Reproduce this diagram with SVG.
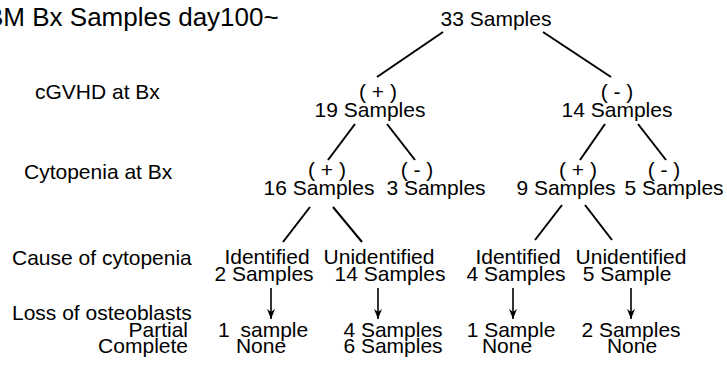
<svg xmlns="http://www.w3.org/2000/svg" width="727" height="366" viewBox="0 0 727 366">
<defs>
<style>
text{font-family:"Liberation Sans",Arial,sans-serif;font-size:21px;fill:#000}
.m{text-anchor:middle}
.e{text-anchor:end}
.t{font-size:26px}
.ln{stroke:#000;stroke-width:2;fill:none}
.ar{stroke:#000;stroke-width:1.6;fill:none}
</style>
<marker id="ah" viewBox="0 0 10 10" refX="10" refY="5" markerWidth="10" markerHeight="10" markerUnits="userSpaceOnUse" orient="auto">
<path d="M0,1 L10,5 L0,9 L3,5 Z" fill="#000"/>
</marker>
</defs>
<rect width="727" height="366" fill="#fff"/>
<g id="labels">
<text class="t" x="-14" y="26">BM Bx Samples day100~</text>
<text x="35" y="99">cGVHD at Bx</text>
<text x="24" y="179">Cytopenia at Bx</text>
<text x="12" y="265">Cause of cytopenia</text>
<text x="12" y="320">Loss of osteoblasts</text>
<text class="e" x="188" y="337">Partial</text>
<text class="e" x="188" y="353">Complete</text>
</g>
<g id="connectors">
<line class="ln" x1="443" y1="32" x2="377" y2="77"/>
<line class="ln" x1="543" y1="32" x2="611" y2="77"/>
<line class="ln" x1="355" y1="124" x2="328" y2="160"/>
<line class="ln" x1="387" y1="124" x2="415" y2="160"/>
<line class="ln" x1="605" y1="124" x2="580" y2="160"/>
<line class="ln" x1="638" y1="124" x2="666" y2="160"/>
<line class="ln" x1="310" y1="207" x2="283" y2="242"/>
<line class="ln" x1="333" y1="207" x2="362" y2="242"/>
<line class="ln" x1="562" y1="205" x2="535" y2="240"/>
<line class="ln" x1="585" y1="205" x2="612" y2="240"/>
<line class="ar" x1="271" y1="288" x2="271" y2="319" marker-end="url(#ah)"/>
<line class="ar" x1="378" y1="288" x2="378" y2="319" marker-end="url(#ah)"/>
<line class="ar" x1="513" y1="288" x2="513" y2="319" marker-end="url(#ah)"/>
<line class="ar" x1="631" y1="288" x2="631" y2="319" marker-end="url(#ah)"/>
</g>
<g id="n-root"><text class="m" x="496" y="26">33 Samples</text></g>
<g id="n-gvhd-pos"><text class="m" x="378" y="99">( + )</text><text class="m" x="370" y="117">19 Samples</text></g>
<g id="n-gvhd-neg"><text class="m" x="617" y="99">( - )</text><text class="m" x="617" y="117">14 Samples</text></g>
<g id="n-cyt-pos-1"><text class="m" x="327" y="177">( + )</text><text class="m" x="319" y="195">16 Samples</text></g>
<g id="n-cyt-neg-1"><text class="m" x="417" y="177">( - )</text><text class="m" x="436" y="195">3 Samples</text></g>
<g id="n-cyt-pos-2"><text class="m" x="578" y="177">( + )</text><text class="m" x="566" y="195">9 Samples</text></g>
<g id="n-cyt-neg-2"><text class="m" x="664" y="177">( - )</text><text class="m" x="674" y="195">5 Samples</text></g>
<g id="n-id-1"><text class="m" x="267" y="264">Identified</text><text class="m" x="264" y="281">2 Samples</text></g>
<g id="n-unid-1"><text class="m" x="379" y="264">Unidentified</text><text class="m" x="390" y="281">14 Samples</text></g>
<g id="n-id-2"><text class="m" x="518" y="264">Identified</text><text class="m" x="516" y="281">4 Samples</text></g>
<g id="n-unid-2"><text class="m" x="631" y="264">Unidentified</text><text class="m" x="627" y="281">5 Sample</text></g>
<g id="n-loss-1"><text x="218" y="337">1<tspan dx="5"> sample</tspan></text><text class="m" x="261" y="353">None</text></g>
<g id="n-loss-2"><text class="m" x="393" y="337">4 Samples</text><text class="m" x="393" y="353">6 Samples</text></g>
<g id="n-loss-3"><text class="m" x="511" y="337">1 Sample</text><text class="m" x="507" y="353">None</text></g>
<g id="n-loss-4"><text class="m" x="631" y="337">2 Samples</text><text class="m" x="632" y="353">None</text></g>
</svg>
